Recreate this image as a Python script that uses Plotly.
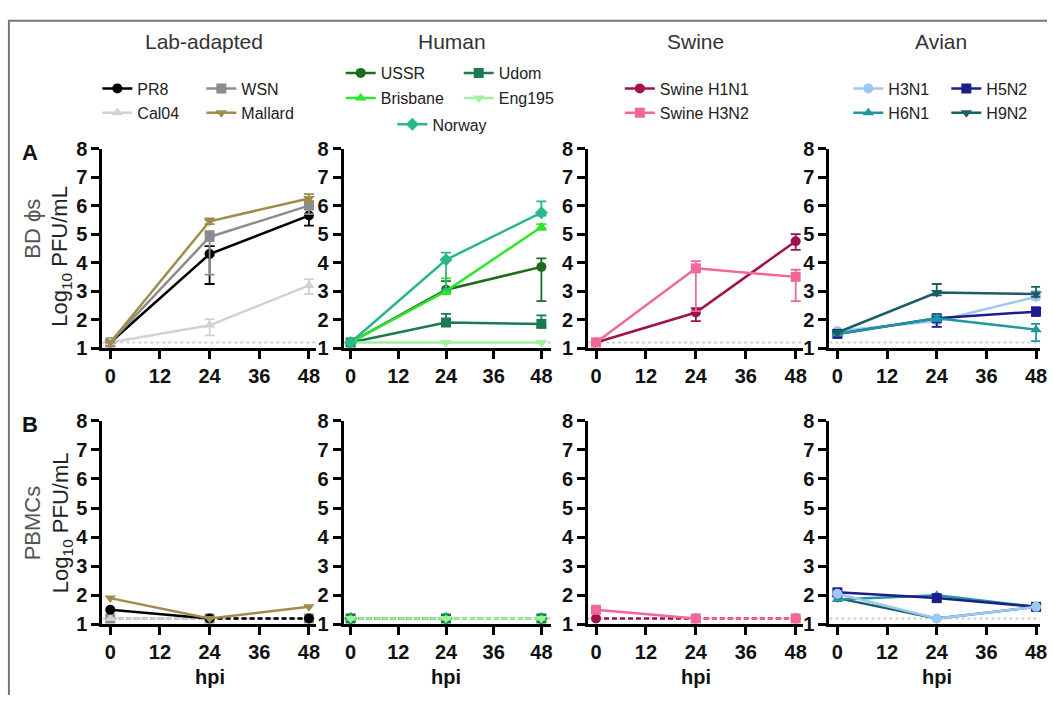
import plotly.graph_objects as go

# ---------------- data ----------------
hpi = [0, 24, 48]
x_ticks = [0, 12, 24, 36, 48]
y_ticks = [1, 2, 3, 4, 5, 6, 7, 8]
LOD = 1.2

group_titles = ["Lab-adapted", "Human", "Swine", "Avian"]
row_titles = ["BD ϕs", "PBMCs"]
panel_letters = ["A", "B"]
x_title = "hpi"
y_title = "Log<sub>10</sub> PFU/mL"

# Lab-adapted
pr8_bd = [1.2, 4.3, 5.65]
pr8_bd_up = [0, 0.28, 0.35]
pr8_bd_dn = [0, 1.05, 0.35]
pr8_pbmc = [1.5, 1.2, 1.2]

wsn_bd = [1.2, 4.9, 6.0]
wsn_bd_up = [0, 0.2, 0.15]
wsn_bd_dn = [0, 1.32, 0.3]
wsn_pbmc = [1.2, 1.2, 1.2]

cal04_bd = [1.2, 1.8, 3.2]
cal04_bd_up = [0, 0.22, 0.22]
cal04_bd_dn = [0, 0.35, 0.3]
cal04_pbmc = [1.2, 1.2, 1.2]

mallard_bd = [1.2, 5.45, 6.25]
mallard_bd_up = [0, 0.1, 0.15]
mallard_bd_dn = [0, 0.1, 0.1]
mallard_pbmc = [1.9, 1.2, 1.6]

# Human
ussr_bd = [1.2, 3.05, 3.85]
ussr_bd_up = [0, 0.3, 0.3]
ussr_bd_dn = [0, 0.1, 1.2]
ussr_pbmc = [1.2, 1.2, 1.2]

udom_bd = [1.2, 1.9, 1.85]
udom_bd_up = [0, 0.3, 0.3]
udom_bd_dn = [0, 0.1, 0.1]
udom_pbmc = [1.2, 1.2, 1.2]

brisbane_bd = [1.2, 3.0, 5.25]
brisbane_bd_up = [0, 0.45, 0.1]
brisbane_bd_dn = [0, 0.1, 0.1]
brisbane_pbmc = [1.2, 1.2, 1.2]

eng195_bd = [1.2, 1.2, 1.2]
eng195_bd_up = [0, 0, 0]
eng195_bd_dn = [0, 0, 0]
eng195_pbmc = [1.2, 1.2, 1.2]

norway_bd = [1.2, 4.1, 5.75]
norway_bd_up = [0, 0.25, 0.4]
norway_bd_dn = [0, 1.05, 0.1]
norway_pbmc = [1.2, 1.2, 1.2]

# Swine
sw_h1n1_bd = [1.2, 2.25, 4.75]
sw_h1n1_bd_up = [0, 0.15, 0.25]
sw_h1n1_bd_dn = [0, 0.3, 0.3]
sw_h1n1_pbmc = [1.2, 1.2, 1.2]

sw_h3n2_bd = [1.2, 3.8, 3.5]
sw_h3n2_bd_up = [0, 0.25, 0.25]
sw_h3n2_bd_dn = [0, 1.5, 0.85]
sw_h3n2_pbmc = [1.5, 1.2, 1.2]

# Avian
h3n1_bd = [1.6, 1.95, 2.8]
h3n1_bd_up = [0, 0.1, 0.2]
h3n1_bd_dn = [0, 0.2, 0.1]
h3n1_pbmc = [2.05, 1.2, 1.6]

h5n2_bd = [1.5, 2.05, 2.28]
h5n2_bd_up = [0, 0.1, 0.15]
h5n2_bd_dn = [0, 0.3, 0.15]
h5n2_pbmc = [2.1, 1.9, 1.6]

h6n1_bd = [1.5, 2.05, 1.65]
h6n1_bd_up = [0, 0.1, 0.2]
h6n1_bd_dn = [0, 0.1, 0.4]
h6n1_pbmc = [1.85, 2.0, 1.6]

h9n2_bd = [1.55, 2.95, 2.9]
h9n2_bd_up = [0, 0.3, 0.25]
h9n2_bd_dn = [0, 0.1, 0.1]
h9n2_pbmc = [1.9, 1.2, 1.6]

# ---------------- assemble ----------------
series = {
    "PR8": (pr8_bd, pr8_bd_up, pr8_bd_dn, pr8_pbmc),
    "WSN": (wsn_bd, wsn_bd_up, wsn_bd_dn, wsn_pbmc),
    "Cal04": (cal04_bd, cal04_bd_up, cal04_bd_dn, cal04_pbmc),
    "Mallard": (mallard_bd, mallard_bd_up, mallard_bd_dn, mallard_pbmc),
    "USSR": (ussr_bd, ussr_bd_up, ussr_bd_dn, ussr_pbmc),
    "Udom": (udom_bd, udom_bd_up, udom_bd_dn, udom_pbmc),
    "Brisbane": (brisbane_bd, brisbane_bd_up, brisbane_bd_dn, brisbane_pbmc),
    "Eng195": (eng195_bd, eng195_bd_up, eng195_bd_dn, eng195_pbmc),
    "Norway": (norway_bd, norway_bd_up, norway_bd_dn, norway_pbmc),
    "Swine H1N1": (sw_h1n1_bd, sw_h1n1_bd_up, sw_h1n1_bd_dn, sw_h1n1_pbmc),
    "Swine H3N2": (sw_h3n2_bd, sw_h3n2_bd_up, sw_h3n2_bd_dn, sw_h3n2_pbmc),
    "H3N1": (h3n1_bd, h3n1_bd_up, h3n1_bd_dn, h3n1_pbmc),
    "H5N2": (h5n2_bd, h5n2_bd_up, h5n2_bd_dn, h5n2_pbmc),
    "H6N1": (h6n1_bd, h6n1_bd_up, h6n1_bd_dn, h6n1_pbmc),
    "H9N2": (h9n2_bd, h9n2_bd_up, h9n2_bd_dn, h9n2_pbmc),
}

# legend layout (rows of entries) per group
legend_rows = [
    [["PR8", "WSN"], ["Cal04", "Mallard"]],
    [["USSR", "Udom"], ["Brisbane", "Eng195"], ["Norway"]],
    [["Swine H1N1"], ["Swine H3N2"]],
    [["H3N1", "H5N2"], ["H6N1", "H9N2"]],
]

# ---------------- styles ----------------
style = {
    "PR8": ("#000000", "circle"),
    "WSN": ("#8c8c8c", "square"),
    "Cal04": ("#d2d2d2", "triangle-up"),
    "Mallard": ("#a08c4b", "triangle-down"),
    "USSR": ("#1f6b1f", "circle"),
    "Udom": ("#1b7a50", "square"),
    "Brisbane": ("#2ee62e", "triangle-up"),
    "Eng195": ("#a3f0a3", "triangle-down"),
    "Norway": ("#2ab88a", "diamond"),
    "Swine H1N1": ("#a0124f", "circle"),
    "Swine H3N2": ("#f2679a", "square"),
    "H3N1": ("#9cc8f2", "circle"),
    "H5N2": ("#1c1c8c", "square"),
    "H6N1": ("#2096a0", "triangle-up"),
    "H9N2": ("#1d5e66", "triangle-down"),
}
draw_order = [
    [["Cal04", "WSN", "PR8", "Mallard"], ["WSN", "Cal04", "PR8", "Mallard"]],
    [["Eng195", "Udom", "USSR", "Brisbane", "Norway"], ["Norway", "USSR", "Udom", "Brisbane", "Eng195"]],
    [["Swine H1N1", "Swine H3N2"], ["Swine H1N1", "Swine H3N2"]],
    [["H3N1", "H6N1", "H5N2", "H9N2"], ["H9N2", "H6N1", "H5N2", "H3N1"]],
]

FONT = "Arial, Liberation Sans, Helvetica, sans-serif"
W, H = 1054, 706


def px(x):
    return x / W


def py(y):
    return 1 - y / H


# panel geometry (reference pixels): y-axis position, x=0 position, x=48 position, axis end
panels_x = [(103, 111, 311, 318), (346, 353, 545, 555), (592, 600, 801, 808), (835, 843, 1043, 1047)]
rows_y = [(142, 348), (423, 633)]
# legend: (x of first legend text, y centre) per row, in reference pixels
legend_pos = [
    [(143, 80), (143, 105)],
    [(388, 64), (388, 90), (440, 117)],
    [(669, 80), (669, 105)],
    [(899, 80), (899, 105)],
]
legend_spacing = [104, 118, 0, 98]

fig = go.Figure()
layout_axes = {}
legends = {}
legend_lookup = {}
lid = 0
for g, rws in enumerate(legend_rows):
    for r, names in enumerate(rws):
        lid += 1
        key = "legend" if lid == 1 else f"legend{lid}"
        for n in names:
            legend_lookup[n] = key
        lx, ly = legend_pos[g][r]
        ew = legend_spacing[g] - 45 if (legend_spacing[g] and len(names) > 1) else 0
        legends[key] = dict(
            orientation="h", x=px(lx - 45), y=py(ly), xanchor="left", yanchor="middle",
            bgcolor="rgba(0,0,0,0)", font=dict(family=FONT, size=16, color="#222"),
            entrywidth=ew, entrywidthmode="pixels", itemwidth=30,
            tracegroupgap=0, traceorder="normal",
        )

shapes = []
annotations = []
for row in range(2):
    top, bottom = rows_y[row]
    for g in range(4):
        idx = row * 4 + g + 1
        xa = "x" if idx == 1 else f"x{idx}"
        ya = "y" if idx == 1 else f"y{idx}"
        yl, x0p, x48p, xe = panels_x[g]
        scale = (x48p - x0p) / 48.0
        lo = (yl - x0p) / scale
        hi = (xe - x0p) / scale
        axis_common = dict(
            showline=True, linewidth=3, linecolor="#000", ticks="outside", ticklen=8,
            tickwidth=3, tickcolor="#000", showgrid=False, zeroline=False,
            ticklabeloverflow="allow",
            tickfont=dict(family=FONT, size=20, color="#111", weight="bold"),
        )
        layout_axes["xaxis" if idx == 1 else f"xaxis{idx}"] = dict(
            domain=[px(yl), px(xe)], range=[lo, hi], tickvals=x_ticks, anchor=ya, **axis_common
        )
        layout_axes["yaxis" if idx == 1 else f"yaxis{idx}"] = dict(
            domain=[py(bottom), py(top)], range=[1, 8], tickvals=y_ticks, anchor=xa, **axis_common
        )
        # limit of detection line
        shapes.append(dict(type="line", xref=f"{xa} domain", yref=ya, x0=0, x1=1, y0=LOD, y1=LOD,
                           line=dict(color="#cfcfcf", width=2, dash="dot"), layer="below"))
        for name in draw_order[g][row]:
            bd, up, dn, pb = series[name]
            col, sym = style[name]
            if row == 0:
                fig.add_trace(go.Scatter(
                    x=hpi, y=bd, name=name, mode="lines+markers", xaxis=xa, yaxis=ya,
                    line=dict(color=col, width=2.5), marker=dict(color=col, symbol=sym, size=10),
                    error_y=dict(type="data", array=up, arrayminus=dn, color=col, thickness=1.8, width=5),
                    legend=legend_lookup[name], cliponaxis=False,
                ))
            else:
                sx, sy, dx, dy = [], [], [], []
                for i in range(len(pb) - 1):
                    if pb[i] == LOD and pb[i + 1] == LOD:
                        dx += [hpi[i], hpi[i + 1], None]
                        dy += [pb[i], pb[i + 1], None]
                    else:
                        sx += [hpi[i], hpi[i + 1], None]
                        sy += [pb[i], pb[i + 1], None]
                if sx:
                    fig.add_trace(go.Scatter(x=sx, y=sy, mode="lines", xaxis=xa, yaxis=ya,
                                             line=dict(color=col, width=2.5), showlegend=False,
                                             cliponaxis=False, hoverinfo="skip"))
                if dx:
                    fig.add_trace(go.Scatter(x=dx, y=dy, mode="lines", xaxis=xa, yaxis=ya,
                                             line=dict(color=col, width=2.5, dash="5px,3px"), showlegend=False,
                                             cliponaxis=False, hoverinfo="skip"))
                fig.add_trace(go.Scatter(x=hpi, y=pb, mode="markers", xaxis=xa, yaxis=ya, name=name,
                                         marker=dict(color=col, symbol=sym, size=10), showlegend=False,
                                         cliponaxis=False))
        # hpi label
        if row == 1:
            annotations.append(dict(text=x_title, x=px(x0p + 24 * scale), y=py(687), xref="paper", yref="paper",
                                    showarrow=False, xanchor="center", yanchor="middle",
                                    font=dict(family=FONT, size=20, color="#111", weight="bold")))

# legend entries must follow the legend row ordering
legend_order = [n for rws in legend_rows for names in rws for n in names]
legend_traces = {t.name: t for t in fig.data if t.showlegend is not False}
rest = [t for t in fig.data if t.showlegend is False]
row_a_sorted = [legend_traces[n] for n in legend_order]
fig.data = []
for t in row_a_sorted + rest:
    fig.add_trace(t)

# group titles
title_x = [205, 455, 700, 947]
for g in range(4):
    annotations.append(dict(text=group_titles[g], x=px(title_x[g]), y=py(31), xref="paper", yref="paper",
                            showarrow=False, xanchor="center", yanchor="middle",
                            font=dict(family=FONT, size=21, color="#333")))

# row labels
for row in range(2):
    top, bottom = rows_y[row]
    mid = (top + bottom) / 2
    annotations.append(dict(text=row_titles[row], x=px(33), y=py(mid - (20 if row == 0 else 0)), xref="paper",
                            yref="paper", showarrow=False, textangle=-90, xanchor="center", yanchor="middle",
                            font=dict(family=FONT, size=22, color="#555")))
    annotations.append(dict(text=y_title, x=px(62), y=py(mid + (8 if row == 0 else 0)), xref="paper", yref="paper",
                            showarrow=False, textangle=-90, xanchor="center", yanchor="middle",
                            font=dict(family=FONT, size=22, color="#222")))
    annotations.append(dict(text=panel_letters[row], x=px(30), y=py(top + 4), xref="paper", yref="paper",
                            showarrow=False, xanchor="center", yanchor="middle",
                            font=dict(family=FONT, size=22, color="#111", weight="bold")))

# outer frame (top and left edges visible)
shapes.append(dict(type="line", xref="paper", yref="paper", x0=px(8), x1=1, y0=py(10), y1=py(10),
                   line=dict(color="#777", width=2)))
shapes.append(dict(type="line", xref="paper", yref="paper", x0=px(9), x1=px(9), y0=py(10), y1=0,
                   line=dict(color="#777", width=2)))

fig.update_layout(
    width=W, height=H, margin=dict(l=0, r=0, t=0, b=0),
    paper_bgcolor="white", plot_bgcolor="white",
    font=dict(family=FONT),
    shapes=shapes, annotations=annotations,
    **layout_axes, **legends,
)

fig.write_html("out.html", config={"displayModeBar": False},
               post_script="document.body.style.margin='0px';")
